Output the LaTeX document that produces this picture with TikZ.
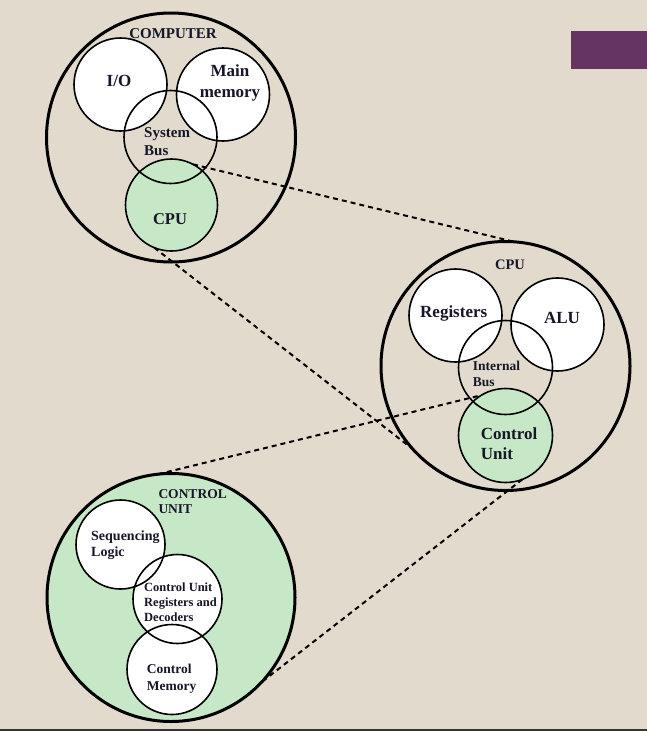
\documentclass[tikz,border=0pt]{standalone}
\usepackage{fontspec}
\setmainfont{Liberation Serif}
\definecolor{bgc}{RGB}{226,219,205}
\definecolor{grn}{RGB}{199,232,199}
\definecolor{purp}{RGB}{101,52,99}
\definecolor{txt}{RGB}{22,22,40}
\definecolor{barc}{RGB}{52,52,52}
\begin{document}
\begin{tikzpicture}[x=1pt,y=-1pt,
  disc/.style={circle, inner sep=0pt, outer sep=0pt, draw=none, minimum size=#1},
  bigline/.style={line width=3pt, draw=black},
  smallline/.style={line width=1.6pt, draw=black},
  dashline/.style={line width=2pt, dash pattern=on 5pt off 4pt, draw=black},
  lab/.style={inner sep=0pt, text=txt, font=\bfseries\fontsize{#1}{#1}\selectfont}]
\useasboundingbox (0,0) rectangle (647,731);
\fill[bgc] (0,0) rectangle (647,731);
\fill[barc] (0,728.5) rectangle (647,731);
\fill[purp] (571,31) rectangle (647,69);

% ---------- COMPUTER ----------
\node[disc=249pt] (comp) at (171,137.5) {};
\node[disc=93pt, fill=white] (io) at (120.5,84.5) {};
\node[disc=93pt, fill=white] (mem) at (223,94.5) {};
\node[disc=92pt, fill=grn] (cpus) at (171.5,205) {};
\node[disc=93pt] (sbus) at (170.5,137) {};
\draw[bigline] (comp.center) circle[radius=124.5pt];
\draw[smallline] (io.center) circle[radius=46.5pt];
\draw[smallline] (mem.center) circle[radius=46.5pt];
\draw[smallline] (cpus.center) circle[radius=46pt];
\draw[smallline] (sbus.center) circle[radius=46.5pt];

% ---------- CPU ----------
\node[disc=249pt] (cpub) at (505.5,366) {};
\node[disc=93pt, fill=white] (reg) at (455.5,315.5) {};
\node[disc=93pt, fill=white] (alu) at (557.5,324.5) {};
\node[disc=94pt, fill=grn] (cus) at (505.5,435.5) {};
\node[disc=94pt] (ibus) at (505.5,367.5) {};
\draw[bigline] (cpub.center) circle[radius=124.5pt];
\draw[smallline] (reg.center) circle[radius=46.5pt];
\draw[smallline] (alu.center) circle[radius=46.5pt];
\draw[smallline] (cus.center) circle[radius=47pt];
\draw[smallline] (ibus.center) circle[radius=47pt];

% ---------- CONTROL UNIT ----------
\node[disc=248pt, fill=grn] (cub) at (171,597.5) {};
\node[disc=89pt, fill=white] (seq) at (120.5,544.5) {};
\node[disc=89pt, fill=white] (cur) at (177.5,599) {};
\node[disc=90pt, fill=white] (cmem) at (172,669.5) {};
\draw[bigline] (cub.center) circle[radius=124pt];
\draw[smallline] (seq.center) circle[radius=44.5pt];
\draw[smallline] (cur.center) circle[radius=44.5pt];
\draw[smallline] (cmem.center) circle[radius=45pt];

% ---------- labels ----------
\node[lab=15, anchor=base] (tcomp) at (173,38.3) {COMPUTER};
\node[lab=17, anchor=base] (tio) at (119,86) {I/O};
\node[lab=17, anchor=base] (tmem1) at (230,76.7) {Main};
\node[lab=17, anchor=base] (tmem2) at (230,97.3) {memory};
\node[lab=15, anchor=base west] (tsb1) at (144,137.7) {System};
\node[lab=15, anchor=base west] (tsb2) at (144,155.7) {Bus};
\node[lab=16.5, anchor=base] (tcpus) at (170,224.3) {CPU};

\node[lab=14.5, anchor=base] (tcpub) at (510,269.3) {CPU};
\node[lab=17, anchor=base] (treg) at (453.7,317.3) {Registers};
\node[lab=17, anchor=base] (talu) at (562,323.3) {ALU};
\node[lab=13.5, anchor=base west] (tib1) at (472.7,370.7) {Internal};
\node[lab=13.5, anchor=base west] (tib2) at (472.7,386) {Bus};
\node[lab=17, anchor=base west] (tcu1) at (480.7,439.3) {Control};
\node[lab=17, anchor=base west] (tcu2) at (480.7,459.3) {Unit};

\node[lab=13.5, anchor=base west] (tcub1) at (158.3,498.3) {CONTROL};
\node[lab=13.5, anchor=base west] (tcub2) at (158.3,513.3) {UNIT};
\node[lab=14, anchor=base west] (tseq1) at (91,540.7) {Sequencing};
\node[lab=14, anchor=base west] (tseq2) at (91,556) {Logic};
\node[lab=12.5, anchor=base west] (tcur1) at (144,591.7) {Control Unit};
\node[lab=12.5, anchor=base west] (tcur2) at (144,606.7) {Registers and};
\node[lab=12.5, anchor=base west] (tcur3) at (144,621.7) {Decoders};
\node[lab=13.5, anchor=base west] (tcm1) at (146.7,673.3) {Control};
\node[lab=13.5, anchor=base west] (tcm2) at (146.7,690) {Memory};

% ---------- zoom connectors ----------
\draw[dashline] (cpus.62) -- (cpub.86);
\draw[dashline] (cpus.248) -- (cpub.222.6);
\draw[dashline] (cub.96) -- (cus.121);
\draw[dashline] (cus.291) -- (cub.317.5);
\end{tikzpicture}
\end{document}
